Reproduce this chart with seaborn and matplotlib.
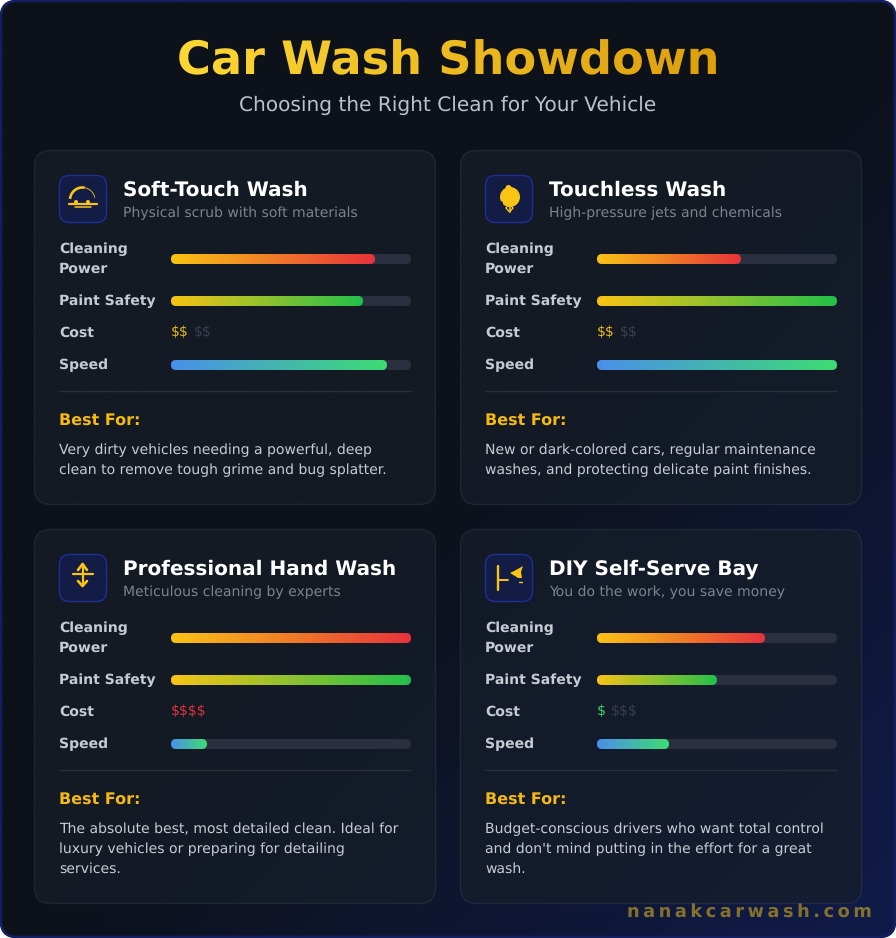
import numpy as np
import matplotlib
matplotlib.use("Agg")
import matplotlib.pyplot as plt
import seaborn as sns
from matplotlib.colors import LinearSegmentedColormap, to_rgb
from matplotlib.patches import FancyBboxPatch, Circle, Polygon, Arc

TITLE = "Car Wash Showdown"
SUBTITLE = "Choosing the Right Clean for Your Vehicle"
FOOTER = "nanakcarwash.com"

names = ["Soft-Touch Wash", "Touchless Wash", "Professional Hand Wash", "DIY Self-Serve Bay"]
taglines = ["Physical scrub with soft materials", "High-pressure jets and chemicals",
            "Meticulous cleaning by experts", "You do the work, you save money"]
cleaning_power = [85, 60, 100, 70]
paint_safety = [80, 100, 100, 50]
speed = [90, 100, 15, 30]
cost_paid = ["$$", "$$", "$$$$", "$"]
cost_unpaid = ["$$", "$$", "", "$$$"]
cost_colors = ["#eeb915", "#eeb915", "#e0343c", "#33d86f"]
best_for = [
    ["Very dirty vehicles needing a powerful, deep", "clean to remove tough grime and bug splatter."],
    ["New or dark-colored cars, regular maintenance", "washes, and protecting delicate paint finishes."],
    ["The absolute best, most detailed clean. Ideal for", "luxury vehicles or preparing for detailing", "services."],
    ["Budget-conscious drivers who want total control", "and don't mind putting in the effort for a great", "wash."],
]

W, H = 896, 938
YELLOW = "#f9c414"
AMBER = "#f5b914"
TRACK = "#2a3040"
TILE = "#121c45"
HAIR = "\u200a"

sns.set_theme(style="white")
plt.rcParams["font.family"] = ["DejaVu Sans"]
plt.rcParams["text.hinting"] = "no_hinting"


def px(size):
    return size * 0.72


def spaced(s, n=1):
    return (HAIR * n).join(s)


def gradient_cmap(c0, c1):
    return LinearSegmentedColormap.from_list("g", [c0, c1])


def title_gradient(img, dpi):
    # recolour the rendered title left to right, alpha is left alone
    t = np.linspace(0, 1, img.shape[1])[None, :, None]
    c0, c1 = np.array(to_rgb("#fdd835")), np.array(to_rgb("#dd9f0d"))
    img = img.copy()
    img[:, :, :3] = c0 * (1 - t) + c1 * t
    return img, 0, 0


def rounded_bar(ax, x, w, bar_px_w, color=None, cmap=None):
    # corners stay circular although the x scale is percent
    r = 5 * 100 / bar_px_w
    patch = FancyBboxPatch((x, -0.5), w, 1, boxstyle=f"round,pad=0,rounding_size={r}",
                           mutation_aspect=0.5 / r, linewidth=0, clip_on=False,
                           facecolor=color if color else "none")
    ax.add_patch(patch)
    if cmap is not None:
        im = ax.imshow(np.linspace(0, 1, 256).reshape(1, -1), extent=(x, x + w, 0.5, -0.5),
                       cmap=cmap, aspect="auto", zorder=3, clip_on=True)
        im.set_clip_path(patch)


def metric_bar(fig, left, top, label, value, c0, c1):
    bar_w, bar_h = 240, 10
    ax = fig.add_axes([left / W, 1 - (top + bar_h) / H, bar_w / W, bar_h / H])
    rounded_bar(ax, 0, 100, bar_w, color=TRACK)
    sns.barplot(x=[value], y=[label], ax=ax, orient="h", width=1, color=c1, zorder=2)
    bar = ax.patches[-1]
    bar.set_visible(False)
    rounded_bar(ax, bar.get_x(), bar.get_width(), bar_w, cmap=gradient_cmap(c0, c1))
    ax.set_xlim(0, 100)
    ax.set_ylim(0.5, -0.5)
    ax.axis("off")


def draw_icon(ax, idx, x, y):
    # x, y is the top left of the 48px icon tile
    ax.add_patch(FancyBboxPatch((x + 0.5, y + 0.5), 47, 47, boxstyle="round,pad=0,rounding_size=10",
                                facecolor=TILE, edgecolor="#1e2f99", linewidth=1))
    ln = dict(color=YELLOW, solid_capstyle="round")
    if idx == 0:
        ax.add_patch(Arc((x + 23.5, y + 25), 25, 25, theta1=185, theta2=280, color=YELLOW, lw=1.9))
        ax.add_patch(Arc((x + 23.5, y + 25), 25, 25, theta1=280, theta2=350, color=YELLOW, lw=0.6))
        ax.plot([x + 10, x + 38], [y + 29, y + 29], lw=1.6, **ln)
        ax.plot([x + 16, x + 32], [y + 32.5, y + 32.5], lw=1.1, **ln)
        ax.add_patch(Circle((x + 17, y + 27), 2, color=YELLOW, lw=0))
        ax.add_patch(Circle((x + 29, y + 27), 2, color=YELLOW, lw=0))
    elif idx == 1:
        ax.add_patch(Circle((x + 25, y + 22), 10, color=YELLOW, lw=0))
        ax.add_patch(Circle((x + 23.5, y + 13), 3, color=YELLOW, lw=0))
        ax.add_patch(Circle((x + 15.5, y + 28.5), 2.5, color=TILE, lw=0))
        ax.add_patch(Polygon([(x + 24.5, y + 29), (x + 28, y + 33), (x + 24.5, y + 37), (x + 21, y + 33)],
                             closed=True, fill=False, edgecolor=YELLOW, lw=1))
        ax.plot([x + 24.5, x + 24.5], [y + 29, y + 37], lw=1.2, **ln)
    elif idx == 2:
        ax.plot([x + 14, x + 34], [y + 20, y + 20], lw=1.6, **ln)
        ax.plot([x + 23.5, x + 23.5], [y + 10, y + 32], lw=1.6, **ln)
        ax.plot([x + 19, x + 23.5, x + 28], [y + 16, y + 10, y + 16], lw=1.9, **ln)
        ax.plot([x + 19, x + 23.5, x + 28], [y + 27, y + 32, y + 27], lw=1.9, **ln)
    else:
        ax.plot([x + 13, x + 13], [y + 12, y + 36], lw=1.7, **ln)
        ax.plot([x + 13, x + 23], [y + 26, y + 26], lw=1.4, **ln)
        ax.add_patch(Polygon([(x + 25, y + 19), (x + 31, y + 16), (x + 38, y + 12), (x + 36, y + 18),
                              (x + 37, y + 24), (x + 33, y + 24), (x + 30, y + 22)], color=YELLOW, lw=0))
        ax.plot([x + 33.5, x + 36.5], [y + 28, y + 28], lw=1, **ln)


def draw_card(fig, ax, idx, left, top, height):
    ax.add_patch(FancyBboxPatch((left - 0.5, top - 0.5), 401, height + 1, boxstyle="round,pad=0,rounding_size=16",
                                facecolor=(22 / 255, 30 / 255, 42 / 255, 0.7),
                                edgecolor=(1, 1, 1, 0.07), linewidth=1))
    x = left + 24
    draw_icon(ax, idx, x, top + 24)
    ax.text(x + 64, top + 45, names[idx], color="white", fontsize=px(20), fontweight="bold")
    ax.text(x + 64, top + 66.5, taglines[idx], color="#7d838e", fontsize=px(14))

    lab = dict(color="#c6cad2", fontsize=px(14), fontweight="bold")
    ax.text(x, top + 102, "Cleaning", **lab)
    ax.text(x, top + 122, "Power", **lab)
    ax.text(x, top + 154, "Paint Safety", **lab)
    ax.text(x, top + 186, "Cost", **lab)
    ax.text(x, top + 218, "Speed", **lab)

    bar_x = left + 136
    metric_bar(fig, bar_x, top + 103, "Cleaning Power", cleaning_power[idx], YELLOW, "#e8323c")
    metric_bar(fig, bar_x, top + 145, "Paint Safety", paint_safety[idx], YELLOW, "#22c04a")
    metric_bar(fig, bar_x, top + 209, "Speed", speed[idx], "#4a90ea", "#3ddc73")

    ax.text(bar_x, top + 185, cost_paid[idx], color=cost_colors[idx], fontsize=px(14), parse_math=False)
    if cost_unpaid[idx]:
        ax.text(bar_x + 8.9 * len(cost_paid[idx]) + 5, top + 185, cost_unpaid[idx],
                color="#3a3f4d", fontsize=px(14), parse_math=False)

    ax.plot([x, x + 352], [top + 240.5, top + 240.5], color="#2a2f39", lw=1)
    ax.text(x, top + 274, "Best For:", color=AMBER, fontsize=px(16), fontweight="bold")
    for i, line in enumerate(best_for[idx]):
        ax.text(x, top + 303 + 20 * i, line, color="#c8ccd4", fontsize=px(14))


fig = plt.figure(figsize=(W / 100, H / 100), dpi=100, facecolor="white")
ax = fig.add_axes([0, 0, 1, 1])
ax.set_xlim(0, W)
ax.set_ylim(H, 0)
ax.axis("off")

# page background, diagonal gradient clipped to a rounded frame
xx, yy = np.meshgrid(np.linspace(0, 1, 300), np.linspace(0, 1, 300))
t = np.clip(((xx + yy) / 2 - 0.5) / 0.5, 0, 1)
page_cmap = gradient_cmap("#0d1119", "#111b4a")
frame = FancyBboxPatch((1, 1), W - 2, H - 2, boxstyle="round,pad=0,rounding_size=16",
                       facecolor="none", edgecolor="#141f5e", linewidth=2, zorder=1)
ax.add_patch(frame)
bg = ax.imshow(t, extent=(0, W, H, 0), cmap=page_cmap, vmin=0, vmax=1, aspect="auto", zorder=0)
bg.set_clip_path(frame)
ax.set_xlim(0, W)
ax.set_ylim(H, 0)

title = ax.text(448, 74, TITLE, ha="center", color="#f0b71c", fontsize=px(46.3), fontweight="bold")
title.set_agg_filter(title_gradient)

ax.text(448, 111, SUBTITLE, ha="center", color="#bcc0c9", fontsize=px(20.1))

draw_card(fig, ax, 0, 35, 151, 353)
draw_card(fig, ax, 1, 461, 151, 353)
draw_card(fig, ax, 2, 35, 530, 373)
draw_card(fig, ax, 3, 461, 530, 373)

ax.text(627, 916.5, spaced(FOOTER, 2), color="#83722a", fontsize=px(17.8), fontweight="bold")

fig.savefig("out.png", dpi=100, facecolor="white")
